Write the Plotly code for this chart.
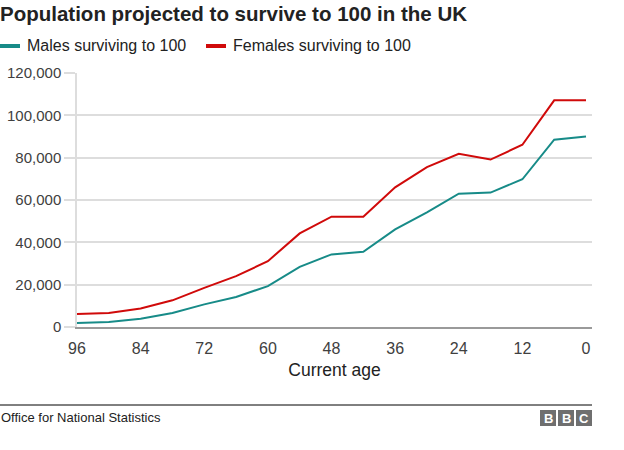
import plotly.graph_objects as go

ages = [96, 90, 84, 78, 72, 66, 60, 54, 48, 42, 36, 30, 24, 18, 12, 6, 0]
males = [1900, 2400, 3900, 6600, 10700, 14200, 19300, 28400, 34300, 35500,
         46100, 54200, 63000, 63500, 69800, 88500, 90000]
females = [6200, 6600, 8700, 12600, 18500, 24000, 31100, 44200, 52100, 52100,
           66000, 75500, 81800, 79100, 86100, 107100, 107100]
x_ticks = [96, 84, 72, 60, 48, 36, 24, 12, 0]
y_ticks = [0, 20000, 40000, 60000, 80000, 100000, 120000]

TEAL = "#178b88"
RED = "#d00a0a"
FONT = "Arial, Liberation Sans, sans-serif"

W, H = 624, 450
L, R, T, B = 77, 32, 73, 123
PW, PH = W - L - R, H - T - B


def px(x):
    return (x - L) / PW


def py(y):
    return (H - B - y) / PH


fig = go.Figure()
fig.add_trace(go.Scatter(x=ages, y=males, mode="lines", name="Males surviving to 100",
                         line=dict(color=TEAL, width=2), showlegend=False))
fig.add_trace(go.Scatter(x=ages, y=females, mode="lines", name="Females surviving to 100",
                         line=dict(color=RED, width=2), showlegend=False))

shapes = []
annotations = []

# legend (manual)
legend_items = [("Males surviving to 100", TEAL, 0, 20, 25),
                ("Females surviving to 100", RED, 206, 226, 231)]
for label, col, x0, x1, tx in legend_items:
    shapes.append(dict(type="line", xref="paper", yref="paper",
                       x0=px(x0), x1=px(x1), y0=py(46), y1=py(46),
                       line=dict(color=col, width=4)))
    annotations.append(dict(text=label, xref="paper", yref="paper", x=px(tx), y=py(46),
                            xanchor="left", yanchor="middle", showarrow=False,
                            font=dict(family=FONT, size=16, color="#222222")))

# footer
shapes.append(dict(type="line", xref="paper", yref="paper",
                   x0=px(0), x1=px(592), y0=py(405), y1=py(405),
                   line=dict(color="#000000", width=1)))
annotations.append(dict(text="Office for National Statistics", xref="paper", yref="paper",
                        x=px(-1), y=py(417), xanchor="left", yanchor="middle", showarrow=False,
                        font=dict(family=FONT, size=13, color="#222222")))
for i, letter in enumerate("BBC"):
    x0 = 540 + i * 18
    shapes.append(dict(type="rect", xref="paper", yref="paper",
                       x0=px(x0), x1=px(x0 + 16), y0=py(426), y1=py(410),
                       line=dict(width=0), fillcolor="#6f6f6f"))
    annotations.append(dict(text="<b>" + letter + "</b>", xref="paper", yref="paper",
                            x=px(x0 + 8), y=py(418), xanchor="center", yanchor="middle",
                            showarrow=False,
                            font=dict(family=FONT, size=13, color="#ffffff")))

x_right = 96 - 96 * (592 - L) / (586 - L)

fig.update_layout(
    width=W, height=H,
    margin=dict(l=L, r=R, t=T, b=B, pad=0),
    paper_bgcolor="#ffffff", plot_bgcolor="#ffffff",
    title=dict(text="Population projected to survive to 100 in the UK",
               xref="container", yref="container", x=0, xanchor="left",
               y=1 - 14 / H, yanchor="middle",
               font=dict(family=FONT, size=20.5, color="#222222", weight="bold")),
    shapes=shapes, annotations=annotations,
    xaxis=dict(range=[96, x_right], automargin=False,
               tickvals=x_ticks, ticktext=[str(v) for v in x_ticks],
               showgrid=False, zeroline=False,
               showline=True, linecolor="#9a9a9a", linewidth=1.5,
               ticks="outside", ticklen=6, tickcolor="rgba(0,0,0,0)",
               tickfont=dict(family=FONT, size=16, color="#404040"),
               title=dict(text="Current age", standoff=8,
                          font=dict(family=FONT, size=17.5, color="#222222"))),
    yaxis=dict(range=[0, 120000], automargin=False, tickvals=y_ticks, tickformat=",",
               showgrid=True, gridcolor="#dddddd", gridwidth=1.5,
               zeroline=False, showline=True, linecolor="#dddddd", linewidth=1.5,
               ticks="outside", ticklen=11, tickcolor="#dddddd", tickwidth=1.5,
               tickfont=dict(family=FONT, size=15, color="#404040")),
)

fig.write_html("out.html")
